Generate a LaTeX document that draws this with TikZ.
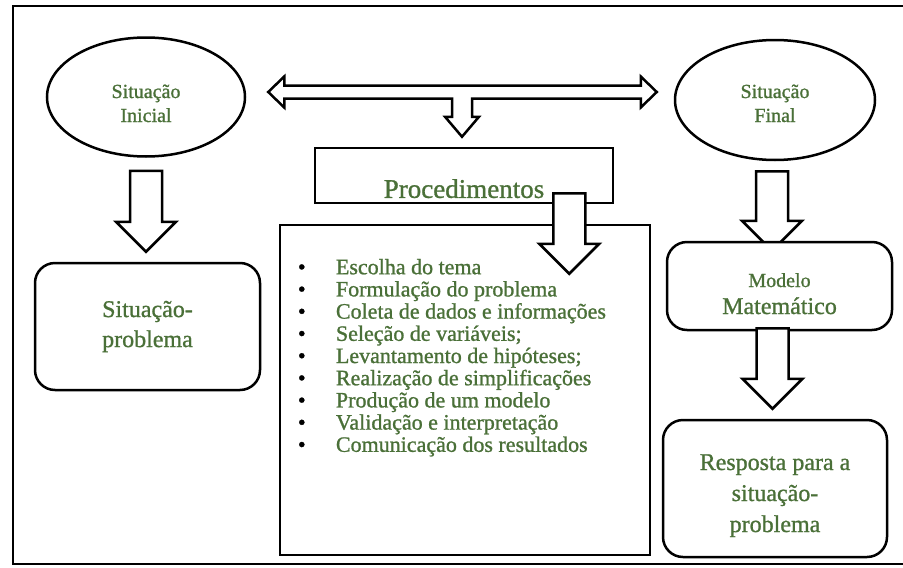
\documentclass[tikz,border=0pt]{standalone}
\usepackage{fontspec}
\setmainfont{Liberation Serif}[FakeBold=1]
\usetikzlibrary{shapes.geometric,calc,backgrounds}
\definecolor{txtgreen}{RGB}{74,112,56}
\newcommand{\itembullet}{\makebox[38pt][l]{\textcolor{black}{•}}}

\begin{document}
\begin{tikzpicture}[x=1pt,y=1pt,
    box/.style={draw, line width=2.5pt, fill=white, text=txtgreen, align=center},
    sit/.style={box, ellipse, minimum width=198pt, minimum height=119pt, text depth=0pt,
        font=\fontsize{20}{24}\selectfont},
    roundbox/.style={box, rounded corners=20pt, font=\fontsize{24}{30}\selectfont},
    fatarrow/.style={draw, line width=2.5pt, fill=white},
    fatdown/.style={to path={let \p1=(\tikztostart), \p2=(\tikztotarget) in
        (\x1-16pt,\y1) -- (\x1-16pt,\y2+30pt) -- (\x1-30pt,\y2+30pt) -- (\x1,\y2)
        -- (\x1+30pt,\y2+30pt) -- (\x1+16pt,\y2+30pt) -- (\x1+16pt,\y1) -- cycle}}
]
\useasboundingbox (0,0) rectangle (903,-568);
% moldura
\draw[line width=2pt] (906,-6) -- (13,-6) -- (13,-564) -- (906,-564);

% situacoes
\node[sit, text height=50pt] (ini) at (146,-97) {Situação\\Inicial};
\node[sit, text height=44pt, minimum width=200pt, minimum height=120pt] (fin) at (775,-100) {Situação\\Final};

% caixas
\node[roundbox, minimum width=225pt, minimum height=127pt] (prob) at (147.5,-326.5) {Situação-\\problema};
\node[box, minimum width=298pt, minimum height=55pt, inner sep=2pt, text height=45pt,
    font=\fontsize{27}{30}\selectfont] (proc) at (464,-175.5) {Procedimentos};
\node[box, minimum width=370pt, minimum height=330pt] (list) at (465,-390) {};
\node[anchor=north west, inner sep=0pt, align=left, text=txtgreen,
    font=\fontsize{22}{22.2}\selectfont] (items) at ($(list.north west)+(19,-35)$) {%
    \itembullet Escolha do tema\\
    \itembullet Formulação do problema\\
    \itembullet Coleta de dados e informações\\
    \itembullet Seleção de variáveis;\\
    \itembullet Levantamento de hipóteses;\\
    \itembullet Realização de simplificações\\
    \itembullet Produção de um modelo\\
    \itembullet Validação e interpretação\\
    \itembullet Comunicação dos resultados};
\node[roundbox, minimum width=225pt, minimum height=88pt, text height=56pt, text depth=0pt,
    font=\fontsize{24}{27}\selectfont] (modelo) at (779.5,-286)
    {{\fontsize{20}{24}\selectfont Modelo}\\Matemático};
\node[roundbox, minimum width=224pt, minimum height=137pt, text height=87pt, text depth=0pt,
    font=\fontsize{24}{31}\selectfont] (resp) at (775,-488.5)
    {Resposta para a\\situação-\\problema};

% setas
\coordinate (lt) at ($(ini.east)+(22,5)$);
\coordinate (rt) at ($(fin.west)+(-17,8)$);
\coordinate (dt) at ($(proc.north)+(-2,10)$);
\draw[fatarrow] let \p1=(lt), \p2=(rt), \p3=(dt) in
    (\p1) -- ++(16,15.5) -- ++(0,-9) -- (\x2-16pt,\y1+6.5pt) -- ++(0,9) -- (\p2)
    -- ++(-16,-15.5) -- ++(0,9) -- (\x3+10pt,\y1-6.5pt) -- (\x3+10pt,\y3+20pt) -- ++(7,0)
    -- (\p3) -- ++(-17,20) -- ++(7,0) -- (\x3-10pt,\y1-6.5pt) -- (\x1+16pt,\y1-6.5pt)
    -- ++(0,-9) -- cycle;
\draw[fatarrow] ([yshift=-13pt]ini.south) to[fatdown] ([yshift=10pt]prob.north);
\draw[fatarrow] ([xshift=-45pt,yshift=11pt]proc.south east) to[fatdown] ([xshift=-82pt,yshift=-50pt]list.north east);
\begin{scope}[on background layer]
\draw[fatarrow] ([xshift=-3pt,yshift=-10pt]fin.south) to[fatdown] ([yshift=-10pt]modelo.north);
\end{scope}
\draw[fatarrow] ([xshift=-7pt,yshift=3pt]modelo.south) to[fatdown] ([yshift=10pt]resp.north);
\end{tikzpicture}
\end{document}
